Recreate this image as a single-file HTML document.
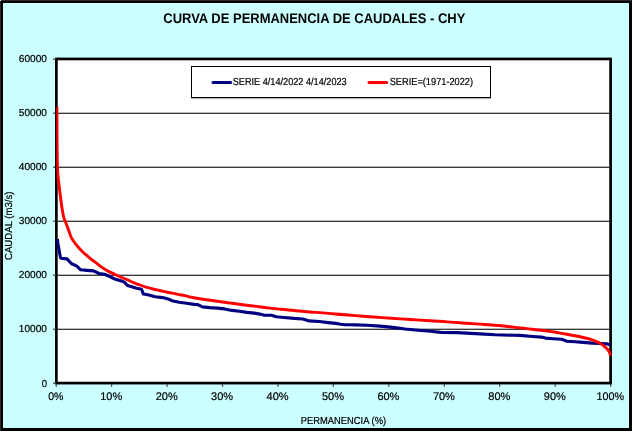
<!DOCTYPE html>
<html><head><meta charset="utf-8"><title>Curva de permanencia de caudales - CHY</title>
<style>
html,body{margin:0;padding:0;background:#fff;}
body{width:633px;height:432px;overflow:hidden;}
svg{display:block;}
text{font-family:"Liberation Sans",Arial,sans-serif;fill:#000;stroke:#000;stroke-width:0.2px;text-rendering:geometricPrecision;}
.title{font-size:14px;font-weight:bold;stroke-width:0;}
.yl{font-size:10.1px;}
.xl{font-size:11px;}
.sm{font-size:10.2px;}
</style></head><body>
<svg width="633" height="432" viewBox="0 0 633 432">
<rect x="0" y="0" width="633" height="432" fill="#fff"/>
<rect x="0" y="0" width="632" height="431" fill="#2a2a2a"/>
<rect x="0" y="0" width="1" height="1" fill="#e8e8e8"/>
<rect x="1" y="1" width="631" height="430" rx="1" fill="#000"/>
<rect x="3" y="3" width="626" height="425" fill="#ccffff"/>
<text x="163.3" y="23" class="title" textLength="302" lengthAdjust="spacingAndGlyphs">CURVA DE PERMANENCIA DE CAUDALES - CHY</text>
<rect x="56.35" y="58.95" width="554.25" height="324.15" fill="#fff" stroke="#000" stroke-width="2.7"/>
<rect x="57" y="112.65" width="553" height="1.35" fill="#3a3a3a"/>
<rect x="57" y="166.65" width="553" height="1.35" fill="#3a3a3a"/>
<rect x="57" y="220.65" width="553" height="1.35" fill="#3a3a3a"/>
<rect x="57" y="274.65" width="553" height="1.35" fill="#3a3a3a"/>
<rect x="57" y="328.65" width="553" height="1.35" fill="#3a3a3a"/>
<rect x="53" y="58.6" width="3" height="1.2" fill="#444"/>
<rect x="53" y="112.6" width="3" height="1.2" fill="#444"/>
<rect x="53" y="166.6" width="3" height="1.2" fill="#444"/>
<rect x="53" y="220.6" width="3" height="1.2" fill="#444"/>
<rect x="53" y="274.6" width="3" height="1.2" fill="#444"/>
<rect x="53" y="328.6" width="3" height="1.2" fill="#444"/>
<rect x="53" y="382.6" width="3" height="1.2" fill="#444"/>
<rect x="55.60" y="384" width="1.2" height="2.8" fill="#444"/>
<rect x="111.04" y="384" width="1.2" height="2.8" fill="#444"/>
<rect x="166.48" y="384" width="1.2" height="2.8" fill="#444"/>
<rect x="221.92" y="384" width="1.2" height="2.8" fill="#444"/>
<rect x="277.36" y="384" width="1.2" height="2.8" fill="#444"/>
<rect x="332.80" y="384" width="1.2" height="2.8" fill="#444"/>
<rect x="388.24" y="384" width="1.2" height="2.8" fill="#444"/>
<rect x="443.68" y="384" width="1.2" height="2.8" fill="#444"/>
<rect x="499.12" y="384" width="1.2" height="2.8" fill="#444"/>
<rect x="554.56" y="384" width="1.2" height="2.8" fill="#444"/>
<rect x="610.00" y="384" width="1.2" height="2.8" fill="#444"/>

<polyline points="57.4,239.0 58.0,244.0 58.9,249.0 60.0,255.0 60.7,258.3 67.0,258.9 71.3,263.5 76.9,266.1 80.6,269.8 87.0,270.4 93.5,270.9 99.0,273.5 104.6,274.3 109.3,276.3 114.8,279.0 121.3,281.0 124.0,281.9 127.4,285.4 131.0,286.5 136.7,288.3 141.5,289.3 143.3,293.9 147.8,294.8 155.2,296.7 162.6,297.6 168.1,298.9 171.9,300.7 179.3,302.2 186.7,303.3 194.0,304.4 197.8,304.6 202.4,306.9 209.8,307.6 217.2,308.1 224.6,308.9 232.0,310.4 239.4,311.3 246.9,312.4 254.3,313.1 259.8,314.1 264.4,315.3 271.3,315.3 276.4,316.7 284.0,317.5 294.0,318.4 302.9,319.0 309.2,320.9 319.3,321.5 328.2,322.6 335.8,323.4 340.8,324.3 345.0,324.7 350.0,324.8 356.0,324.9 367.0,325.2 380.0,326.1 392.6,327.4 405.3,329.0 417.9,330.2 430.6,331.2 440.7,332.4 457.0,332.6 475.6,333.6 495.0,334.7 513.5,335.3 520.0,335.4 532.6,336.5 541.5,337.1 545.3,338.1 553.0,338.7 561.7,339.3 566.8,341.2 575.0,341.8 583.2,342.4 592.0,343.1 600.0,343.5 607.2,343.9 610.0,344.7" fill="none" stroke="#000080" stroke-width="3.1" stroke-linejoin="round" stroke-linecap="butt"/>
<path d="M56.90,107.00 C56.93,114.67 56.92,115.67 57.00,130.00 C57.08,144.33 56.98,137.67 57.15,150.00 C57.32,162.33 57.22,158.33 57.50,167.00 C57.78,175.67 57.53,170.33 58.00,176.00 C58.47,181.67 58.07,177.00 58.90,184.00 C59.73,191.00 59.13,187.10 60.50,197.00 C61.87,206.90 61.43,205.70 63.00,213.70 C64.57,221.70 63.97,217.23 65.20,221.00 C66.43,224.77 65.30,221.20 66.70,225.00 C68.10,228.80 67.43,227.50 69.40,232.40 C71.37,237.30 69.17,234.25 72.60,239.70 C76.03,245.15 74.63,243.18 79.70,248.75 C84.77,254.32 82.33,251.68 87.80,256.40 C93.27,261.12 90.57,258.73 96.10,262.90 C101.63,267.07 97.90,264.97 104.40,268.90 C110.90,272.83 108.17,271.17 115.60,274.70 C123.03,278.23 120.23,276.67 126.70,279.50 C133.17,282.33 130.57,281.37 135.00,283.20 C139.43,285.03 135.73,283.53 140.00,285.00 C144.27,286.47 142.13,285.97 147.80,287.60 C153.47,289.23 150.83,288.43 157.00,289.90 C163.17,291.37 160.10,290.67 166.30,292.00 C172.50,293.33 169.43,292.67 175.60,293.90 C181.77,295.13 178.33,294.33 184.80,295.70 C191.27,297.07 185.43,296.33 195.00,298.00 C204.57,299.67 201.17,298.93 213.50,300.70 C225.83,302.47 219.63,301.63 232.00,303.30 C244.37,304.97 237.93,304.10 250.60,305.70 C263.27,307.30 257.37,306.67 270.00,308.10 C282.63,309.53 276.17,308.80 288.50,310.00 C300.83,311.20 294.63,310.67 307.00,311.70 C319.37,312.73 312.93,312.07 325.60,313.10 C338.27,314.13 332.37,313.73 345.00,314.80 C357.63,315.87 351.17,315.37 363.50,316.30 C375.83,317.23 369.63,316.73 382.00,317.60 C394.37,318.47 387.93,318.07 400.60,318.90 C413.27,319.73 407.37,319.30 420.00,320.10 C432.63,320.90 426.17,320.50 438.50,321.30 C450.83,322.10 444.63,321.63 457.00,322.50 C469.37,323.37 462.93,323.00 475.60,323.90 C488.27,324.80 482.37,324.13 495.00,325.20 C507.63,326.27 501.17,325.77 513.50,327.10 C525.83,328.43 521.40,327.97 532.00,329.20 C542.60,330.43 536.67,329.63 545.30,330.80 C553.93,331.97 549.47,331.30 557.90,332.70 C566.33,334.10 562.17,333.40 570.60,335.00 C579.03,336.60 575.63,335.73 583.20,337.50 C590.77,339.27 587.60,338.27 593.30,340.30 C599.00,342.33 596.60,341.57 600.30,343.60 C604.00,345.63 601.87,344.27 604.40,346.40 C606.93,348.53 606.13,347.80 607.90,350.00 C609.67,352.20 608.90,351.13 609.70,353.00 C610.50,354.87 610.10,354.73 610.30,355.60" fill="none" stroke="#ff0000" stroke-width="2.9" stroke-linejoin="round" stroke-linecap="butt"/>
<rect x="55" y="100" width="1.3" height="150" fill="#000"/>
<rect x="191" y="97" width="300" height="1.5" fill="#6a6a6a"/>
<rect x="191.5" y="66.5" width="299" height="31" fill="#fff" stroke="#000" stroke-width="1"/>
<line x1="213" y1="82.4" x2="230.6" y2="82.4" stroke="#000080" stroke-width="3" stroke-linecap="round"/>
<text x="232.7" y="85" class="sm" textLength="114" lengthAdjust="spacingAndGlyphs">SERIE 4/14/2022 4/14/2023</text>
<line x1="369" y1="82.4" x2="386.7" y2="82.4" stroke="#ff0000" stroke-width="3" stroke-linecap="round"/>
<text x="389.7" y="85" class="sm" textLength="83.4" lengthAdjust="spacingAndGlyphs">SERIE=(1971-2022)</text>
<text x="18.8" y="62.1" class="yl" textLength="28.2" lengthAdjust="spacingAndGlyphs">60000</text>
<text x="18.8" y="115.8" class="yl" textLength="28.2" lengthAdjust="spacingAndGlyphs">50000</text>
<text x="18.8" y="170.0" class="yl" textLength="28.2" lengthAdjust="spacingAndGlyphs">40000</text>
<text x="18.8" y="224.0" class="yl" textLength="28.2" lengthAdjust="spacingAndGlyphs">30000</text>
<text x="18.8" y="278.1" class="yl" textLength="28.2" lengthAdjust="spacingAndGlyphs">20000</text>
<text x="18.8" y="332.3" class="yl" textLength="28.2" lengthAdjust="spacingAndGlyphs">10000</text>
<text x="41.7" y="387.0" class="yl" textLength="5.3" lengthAdjust="spacingAndGlyphs">0</text>
<text x="48.2" y="399.8" class="xl" textLength="15.3" lengthAdjust="spacingAndGlyphs">0%</text>
<text x="100.2" y="399.8" class="xl" textLength="22.0" lengthAdjust="spacingAndGlyphs">10%</text>
<text x="155.7" y="399.8" class="xl" textLength="22.0" lengthAdjust="spacingAndGlyphs">20%</text>
<text x="211.1" y="399.8" class="xl" textLength="22.0" lengthAdjust="spacingAndGlyphs">30%</text>
<text x="266.6" y="399.8" class="xl" textLength="22.0" lengthAdjust="spacingAndGlyphs">40%</text>
<text x="322.0" y="399.8" class="xl" textLength="22.0" lengthAdjust="spacingAndGlyphs">50%</text>
<text x="377.4" y="399.8" class="xl" textLength="22.0" lengthAdjust="spacingAndGlyphs">60%</text>
<text x="432.9" y="399.8" class="xl" textLength="22.0" lengthAdjust="spacingAndGlyphs">70%</text>
<text x="488.3" y="399.8" class="xl" textLength="22.0" lengthAdjust="spacingAndGlyphs">80%</text>
<text x="543.8" y="399.8" class="xl" textLength="22.0" lengthAdjust="spacingAndGlyphs">90%</text>
<text x="596.4" y="399.8" class="xl" textLength="27.6" lengthAdjust="spacingAndGlyphs">100%</text>

<text x="300.8" y="424" class="sm" textLength="85.3" lengthAdjust="spacingAndGlyphs">PERMANENCIA (%)</text>
<text transform="translate(11.7,260) rotate(-90)" class="sm" textLength="68.5" lengthAdjust="spacingAndGlyphs">CAUDAL (m3/s)</text>
</svg>
</body></html>
